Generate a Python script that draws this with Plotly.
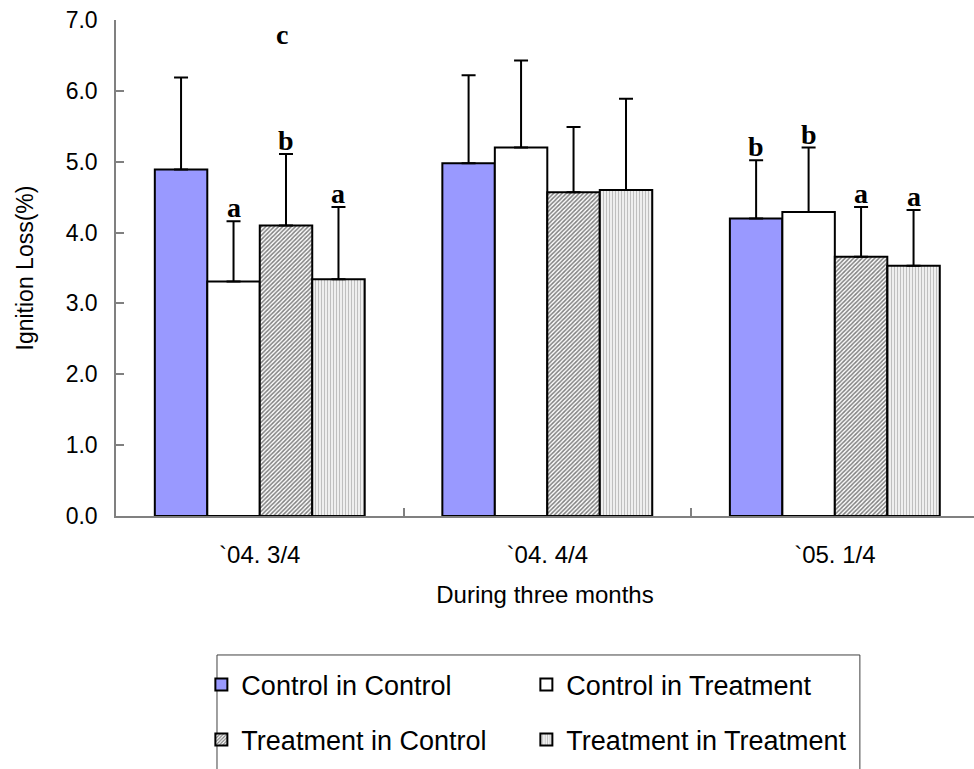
import plotly.graph_objects as go

# ---------------- data ----------------
categories = ["`04. 3/4", "`04. 4/4", "`05. 1/4"]
series_names = ["Control in Control", "Control in Treatment",
                "Treatment in Control", "Treatment in Treatment"]

cc_vals = [4.89, 4.98, 4.20]
cc_err = [1.30, 1.24, 0.82]
ct_vals = [3.31, 5.20, 4.29]
ct_err = [0.85, 1.23, 0.91]
tc_vals = [4.10, 4.57, 3.66]
tc_err = [1.01, 0.92, 0.70]
tt_vals = [3.34, 4.60, 3.53]
tt_err = [1.02, 1.29, 0.79]

cc_letters = ["", "", "b"]
ct_letters = ["a", "", "b"]
tc_letters = ["b", "", "a"]
tt_letters = ["a", "", "a"]

# stray letter in the first group
extra_letter = "c"
extra_letter_group = 0
extra_letter_y = 6.79

y_ticks = [0, 1, 2, 3, 4, 5, 6, 7]

# ---------------- styling ----------------
BARGAP = 0.27
sans = "Liberation Sans, Arial, sans-serif"
serif = "Liberation Serif, Times New Roman, serif"
axis_gray = "#808080"

styles = [
    dict(color="#9999FF", pattern=None),
    dict(color="#FFFFFF", pattern=None),
    dict(color="#FFFFFF", pattern=dict(shape="/", fgcolor="#000000", bgcolor="#FFFFFF",
                                       size=3, solidity=0.5, fillmode="overlay")),
    dict(color="#FFFFFF", pattern=dict(shape="|", fgcolor="#808080", bgcolor="#FFFFFF",
                                       size=3, solidity=0.5, fillmode="overlay")),
]
legend_of = ["legend", "legend", "legend2", "legend2"]

vals = [cc_vals, ct_vals, tc_vals, tt_vals]
errs = [cc_err, ct_err, tc_err, tt_err]
letters = [cc_letters, ct_letters, tc_letters, tt_letters]

fig = go.Figure()
for i, name in enumerate(series_names):
    marker = dict(color=styles[i]["color"], line=dict(color="#000000", width=2))
    if styles[i]["pattern"] is not None:
        marker["pattern"] = styles[i]["pattern"]
    fig.add_trace(go.Bar(
        x=categories, y=vals[i], name=name, marker=marker,
        legend=legend_of[i],
        error_y=dict(type="data", array=errs[i], arrayminus=[0] * len(errs[i]),
                     symmetric=False, color="#000000", thickness=2, width=7),
    ))

# significance letters
letter_font = dict(family=serif, size=28, color="#000000", weight="bold")
annotations = []
n = len(series_names)
bw = (1 - BARGAP) / n
for i in range(n):
    for j, lab in enumerate(letters[i]):
        if not lab:
            continue
        annotations.append(dict(
            x=j + (i - (n - 1) / 2) * bw, y=vals[i][j] + errs[i][j],
            xref="x", yref="y", text=lab, showarrow=False,
            yanchor="bottom", yshift=-4, font=letter_font,
        ))
annotations.append(dict(
    x=extra_letter_group + 0.0765, y=extra_letter_y, xref="x", yref="y",
    text=extra_letter, showarrow=False, yanchor="middle", font=letter_font,
))

legend_common = dict(orientation="h", xanchor="left", yanchor="middle",
                     entrywidth=280, entrywidthmode="pixels", itemwidth=30,
                     font=dict(family=sans, size=27, color="#000000"),
                     bgcolor="rgba(0,0,0,0)", borderwidth=0, traceorder="normal")

fig.update_layout(
    width=974, height=769,
    margin=dict(l=116, r=0, t=20, b=253),
    paper_bgcolor="#FFFFFF", plot_bgcolor="#FFFFFF",
    barmode="group", bargap=BARGAP, bargroupgap=0,
    annotations=annotations,
    xaxis=dict(
        type="category", range=[-0.5, 2.484],
        showline=True, linecolor=axis_gray, linewidth=1.5,
        ticks="inside", tickson="boundaries", ticklen=8, tickcolor=axis_gray, tickwidth=1.5,
        tickfont=dict(family=sans, size=24, color="#000000"),
        ticklabelstandoff=16,
        title=dict(text="During three months", standoff=20,
                   font=dict(family=sans, size=24, color="#000000")),
        showgrid=False, zeroline=False, automargin=False, fixedrange=True,
    ),
    yaxis=dict(
        range=[0, 7], tickvals=y_ticks, tickformat=".1f",
        showline=True, linecolor=axis_gray, linewidth=1.5,
        ticks="inside", ticklen=8, tickcolor=axis_gray, tickwidth=1.5,
        tickfont=dict(family=sans, size=23, color="#000000"),
        ticklabelstandoff=12,
        title=dict(text="Ignition Loss(%)", standoff=26,
                   font=dict(family=sans, size=23, color="#000000")),
        showgrid=False, zeroline=False, automargin=False, fixedrange=True,
    ),
    legend=dict(x=0.0995, y=-0.3407, **legend_common),
    legend2=dict(x=0.0995, y=-0.4516, **legend_common),
    shapes=[dict(type="rect", xref="paper", yref="paper",
                 x0=0.1177, x1=0.867, y0=-0.2802, y1=-0.52,
                 line=dict(color="#404040", width=1), fillcolor="rgba(0,0,0,0)",
                 layer="below")],
)

fig.write_html("out.html")
